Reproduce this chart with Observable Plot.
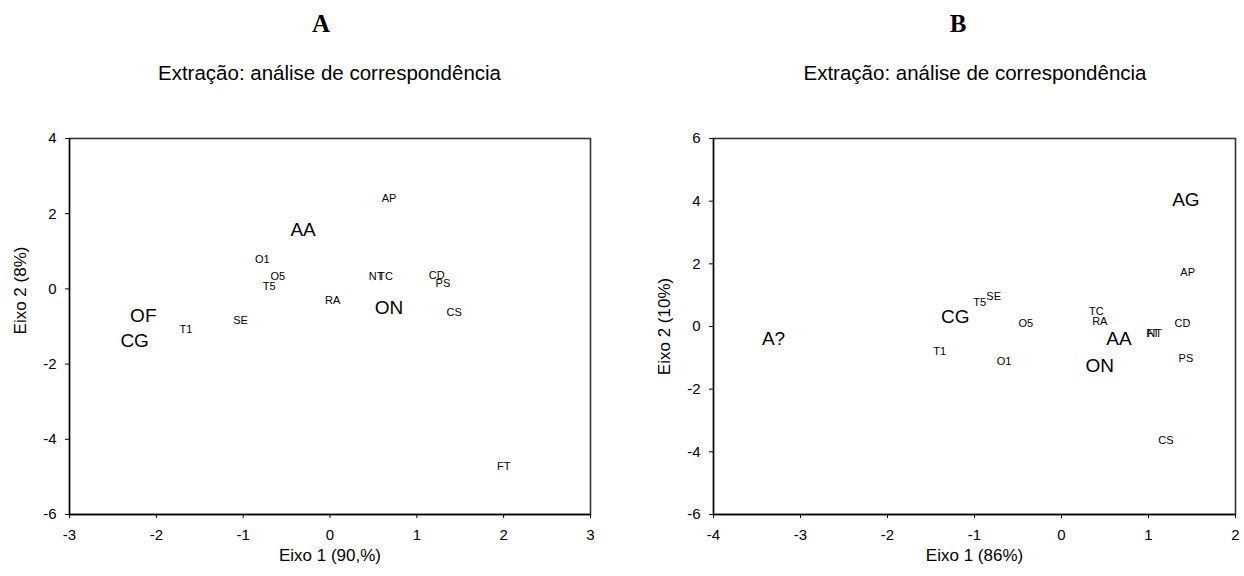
<!DOCTYPE html>
<html>
<head>
<meta charset="utf-8">
<script src="https://cdn.jsdelivr.net/npm/d3@7"></script>
<script src="https://cdn.jsdelivr.net/npm/@observablehq/plot@0.6"></script>
<style>
  html, body { margin: 0; padding: 0; background: #fff; }
  #root { position: relative; width: 1244px; height: 576px; overflow: hidden; font-family: "Liberation Sans", Arial, sans-serif; }
  .ttl { position: absolute; top: 10px; font-family: "Liberation Serif", "Times New Roman", serif; font-weight: bold; font-size: 25px; transform: translateX(-50%); }
  .sub { position: absolute; top: 61px; font-size: 20.5px; transform: translateX(-50%); white-space: nowrap; }
  .panel { position: absolute; top: 100px; }
</style>
</head>
<body>
<div id="root"></div>
<script>
// ---- Panel A data ----
const labelsA = ["AA","O1","O5","T5","RA","OF","CG","T1","SE","AP","NT","TC","CD","PS","ON","CS","FT"];
const xA = [-0.31,-0.78,-0.60,-0.70,0.03,-2.15,-2.25,-1.66,-1.03,0.68,0.53,0.64,1.23,1.30,0.68,1.43,2.00];
const yA = [1.58,0.78,0.33,0.06,-0.31,-0.73,-1.39,-1.08,-0.85,2.41,0.33,0.33,0.36,0.15,-0.50,-0.62,-4.72];
const bigA = ["AA","OF","CG","ON"];
const xTicksA = [-3,-2,-1,0,1,2,3];
const yTicksA = [-6,-4,-2,0,2,4];

// ---- Panel B data ----
const labelsB = ["A?","T1","CG","T5","SE","O5","O1","TC","RA","AA","ON","NT","FT","AG","AP","CD","PS","CS"];
const xB = [-3.31,-1.40,-1.22,-0.94,-0.78,-0.41,-0.66,0.40,0.44,0.66,0.44,1.07,1.05,1.43,1.45,1.39,1.43,1.20];
const yB = [-0.39,-0.79,0.30,0.77,0.97,0.11,-1.11,0.48,0.16,-0.41,-1.25,-0.23,-0.23,4.05,1.73,0.11,-1.01,-3.65];
const bigB = ["A?","CG","AA","ON","AG"];
const xTicksB = [-4,-3,-2,-1,0,1,2];
const yTicksB = [-6,-4,-2,0,2,4,6];

const panelTitles = ["A","B"];
const subtitle = "Extração: análise de correspondência";
const xLabels = ["Eixo 1 (90,%)","Eixo 1 (86%)"];
const yLabels = ["Eixo 2 (8%)","Eixo 2 (10%)"];

function panel(labels, xs, ys, big, xTicks, yTicks, xLabel, yLabel, mLeft, mRight, yLabelShift) {
  const data = labels.map((l, i) => ({label: l, x: xs[i], y: ys[i], big: big.includes(l)}));
  const xDom = d3.extent(xTicks), yDom = d3.extent(yTicks);
  return Plot.plot({
    width: 622,
    height: 476,
    marginLeft: mLeft,
    marginRight: mRight,
    marginTop: 38,
    marginBottom: 62,
    style: {fontFamily: "'Liberation Sans', Arial, sans-serif", background: "#fff", color: "#000"},
    x: {domain: xDom},
    y: {domain: yDom},
    marks: [
      Plot.frame({stroke: "#333", strokeWidth: 1.6}),
      Plot.ruleX([xDom[0]], {stroke: "#000", strokeWidth: 1.3}),
      Plot.ruleY([yDom[0]], {stroke: "#000", strokeWidth: 1.3}),
      Plot.axisX({ticks: xTicks, tickSize: 4, tickPadding: 11, fontSize: 15, label: null, tickFormat: d => String(d)}),
      Plot.axisY({ticks: yTicks, tickSize: 4, tickPadding: 9, fontSize: 15, label: null, tickFormat: d => String(d)}),
      Plot.text(data.filter(d => !d.big), {x: "x", y: "y", text: "label", fontSize: 11, fill: "#000"}),
      Plot.text(data.filter(d => d.big), {x: "x", y: "y", text: "label", fontSize: 19, fill: "#000"}),
      Plot.text([xLabel], {frameAnchor: "bottom", dy: 41, lineAnchor: "middle", textAnchor: "middle", text: d => d, fontSize: 17, fill: "#000"}),
      Plot.text([yLabel], {frameAnchor: "left", dx: -49, dy: yLabelShift, lineAnchor: "middle", textAnchor: "middle", rotate: -90, text: d => d, fontSize: 17, fill: "#000"})
    ]
  });
}

const root = document.getElementById("root");
const specs = [
  {left: 0, center: 329.5, tcenter: 321, p: panel(labelsA, xA, yA, bigA, xTicksA, yTicksA, xLabels[0], yLabels[0], 69, 32, -36)},
  {left: 622, center: 975, tcenter: 958, p: panel(labelsB, xB, yB, bigB, xTicksB, yTicksB, xLabels[1], yLabels[1], 91, 9, 0)}
];
specs.forEach((s, i) => {
  const t = document.createElement("div");
  t.className = "ttl"; t.style.left = s.tcenter + "px"; t.textContent = panelTitles[i];
  root.appendChild(t);
  const st = document.createElement("div");
  st.className = "sub"; st.style.left = s.center + "px"; st.textContent = subtitle;
  root.appendChild(st);
  const w = document.createElement("div");
  w.className = "panel"; w.style.left = s.left + "px";
  w.appendChild(s.p);
  root.appendChild(w);
});
</script>
</body>
</html>
